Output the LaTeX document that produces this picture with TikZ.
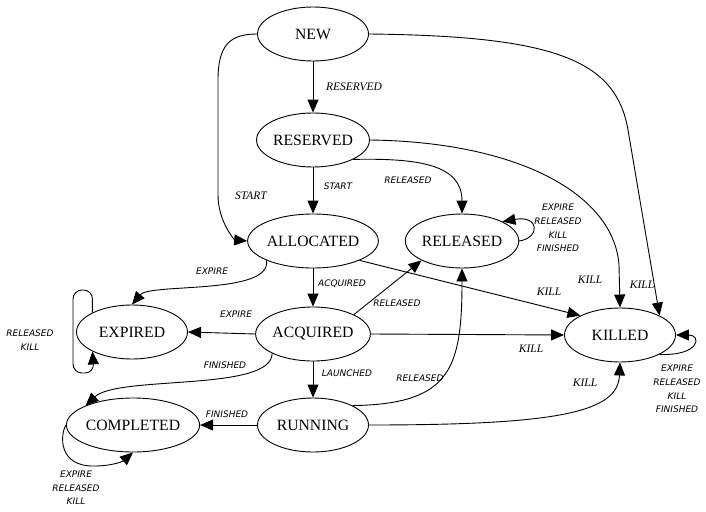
\documentclass[tikz,border=0pt]{standalone}
\usepackage{fontspec}
\setmainfont{Liberation Serif}
\newfontfamily\lblfont{DejaVu Sans}
\usetikzlibrary{arrows.meta,shapes.geometric}
\tikzset{
  state/.style={ellipse, draw, line width=0.9pt, minimum width=111pt, minimum height=54pt, inner sep=0pt, font=\fontsize{15.7}{18}\selectfont},
  edge/.style={draw, line width=0.9pt, -{Triangle[length=13pt,width=11pt]}},
  lbl/.style={font=\lblfont\itshape\fontsize{9}{13.6}\selectfont, align=center, inner sep=0pt},
  slbl/.style={font=\itshape\fontsize{11.5}{13}\selectfont, inner sep=0pt}
}
\begin{document}
\begin{tikzpicture}[x=1pt,y=-1pt]
\useasboundingbox (0,0) rectangle (706,511);
% states
\node[state] (NEW) at (313,34) {NEW};
\node[state] (RES) at (313,140) {RESERVED};
\node[state] (ALL) at (313,241) {ALLOCATED};
\node[state] (REL) at (462,241) {RELEASED};
\node[state] (EXP) at (132,332) {EXPIRED};
\node[state] (ACQ) at (313,334) {ACQUIRED};
\node[state] (KIL) at (620,335) {KILLED};
\node[state] (COM) at (133,425) {COMPLETED};
\node[state] (RUN) at (313,425) {RUNNING};
% transitions
\draw[edge] (NEW) -- (RES);
\draw[edge] (NEW.west) .. controls (230,34) and (218,45) .. (218,80) -- (218,195) .. controls (218,222) and (235,240) .. (ALL.west);
\draw[edge] (NEW.east) .. controls (555,36) and (616,60) .. (628,130) -- (KIL.north east);
\draw[edge] (RES) -- (ALL);
\draw[edge] (RES.south east) .. controls (420,158) and (462,165) .. (REL.north);
\draw[edge] (RES.east) .. controls (520,142) and (614,195) .. (619,265) -- (KIL.north);
\draw[edge] (REL.east) .. controls (540,238) and (540,215) .. (REL.north east);
\draw[edge] (ALL.south west) .. controls (272,295) and (150,283) .. (EXP.north);
\draw[edge] (ALL) -- (ACQ);
\draw[edge] (ALL.south east) -- (KIL.north west);
\draw[edge] (ACQ.west) -- (EXP.east);
\draw[edge] (ACQ.north east) -- (REL.south west);
\draw[edge] (ACQ.east) -- (KIL.west);
\draw[edge] (ACQ.south west) .. controls (272,392) and (118,375) .. (COM.north west);
\draw[edge] (ACQ) -- (RUN);
\draw[edge, rounded corners=9pt] (EXP.north west) |- (73,290) |- (94,373) -- (EXP.south west);
\draw[edge] (COM.west) .. controls (60,435) and (58,467) .. (95,466) .. controls (110,466) and (122,462) .. (COM.south);
\draw[edge] (RUN.west) -- (COM.east);
\draw[edge] (RUN.north east) .. controls (450,404) and (462,370) .. (REL.south);
\draw[edge] (RUN.east) .. controls (560,425) and (618,412) .. (KIL.south);
\draw[edge] (KIL.south east) .. controls (700,356) and (702,335) .. (KIL.east);
% labels
\node[slbl] (lNR) at (354,87) {RESERVED};
\node[slbl] (lNA) at (251,196) {START};
\node[lbl] (lRA) at (338,186) {START};
\node[lbl] (lRR) at (408,180) {RELEASED};
\node[lbl] (lRL) at (558,228) {EXPIRE\\RELEASED\\KILL\\FINISHED};
\node[slbl] (lRK) at (590,280) {KILL};
\node[slbl] (lNK) at (642,285) {KILL};
\node[slbl] (lAK) at (549,292) {KILL};
\node[lbl] (lQR) at (397,303) {RELEASED};
\node[lbl] (lAQ) at (342,284) {ACQUIRED};
\node[slbl] (lQK) at (531,349) {KILL};
\node[lbl] (lQU) at (347,373) {LAUNCHED};
\node[lbl] (lUR) at (420,378) {RELEASED};
\node[slbl] (lUK) at (585,383) {KILL};
\node[lbl] (lKL) at (677,389) {EXPIRE\\RELEASED\\KILL\\FINISHED};
\node[lbl] (lAE) at (212,271) {EXPIRE};
\node[lbl] (lQE) at (236,314) {EXPIRE};
\node[lbl] (lEL) at (30,340) {RELEASED\\KILL};
\node[lbl] (lQC) at (225,365) {FINISHED};
\node[lbl] (lUC) at (227,414) {FINISHED};
\node[lbl] (lCL) at (76,488) {EXPIRE\\RELEASED\\KILL};
\end{tikzpicture}
\end{document}
